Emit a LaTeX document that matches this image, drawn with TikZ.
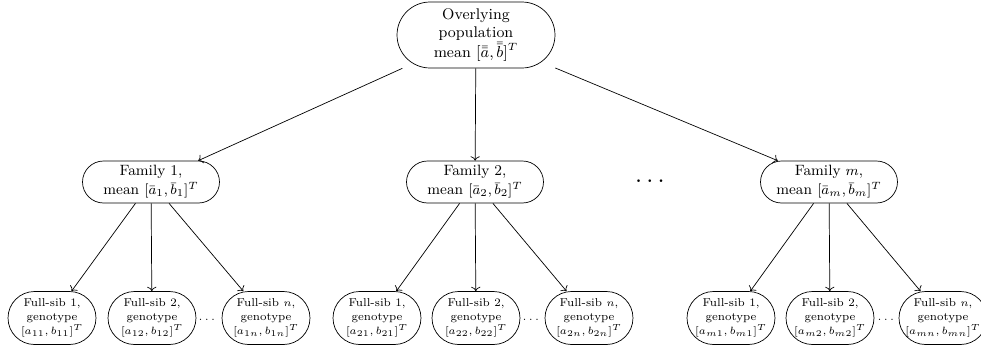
\documentclass[tikz,border=0pt]{standalone}
\usepackage{amsmath,amssymb}
\usepackage{tikz}
\usetikzlibrary{positioning,arrows.meta}
\tikzset{
  popbox/.style={draw,rounded corners=0.66cm,minimum width=3.16cm,
    minimum height=1.32cm,align=center,inner sep=1pt,
    font=\fontsize{8.8}{10.4}\selectfont},
  fambox/.style={draw,rounded corners=0.42cm,minimum width=2.74cm,
    minimum height=0.84cm,align=center,inner sep=1pt,
    font=\fontsize{8.5}{10.8}\selectfont},
  sibbox/.style={draw,rounded corners=0.53cm,minimum width=1.76cm,
    minimum height=1.06cm,align=center,inner sep=1pt,
    font=\fontsize{6.5}{7.9}\selectfont},
  link/.style={->,thin},
}

\begin{document}
\begin{tikzpicture}[x=0.02cm,y=-0.02cm]
  \useasboundingbox (0,0) rectangle (981,349);
  % top level
  \node[popbox] (pop) at (476,35)
    {Overlying\\population\\mean $[\bar{\bar{a}},\bar{\bar{b}}]^T$};
  % families
  \node[fambox] (fam1) at (151,182) {Family 1,\\mean $[\bar{a}_1,\bar{b}_1]^T$};
  \node[fambox] (fam2) at (475,182) {Family 2,\\mean $[\bar{a}_2,\bar{b}_2]^T$};
  \node[fambox] (famm) at (829,182) {Family $m$,\\mean $[\bar{a}_m,\bar{b}_m]^T$};
  \node[font=\Large] (famdots) at (652,182) {$\cdots$};
  \draw[link] (pop) -- (fam1);
  \draw[link] (pop) -- (fam2);
  \draw[link] (pop) -- (famm);
  % full-sibs of family 1
  \node[sibbox] (s11) at (52,318)  {Full-sib 1,\\genotype\\$[a_{11},b_{11}]^T$};
  \node[sibbox] (s12) at (152,318) {Full-sib 2,\\genotype\\$[a_{12},b_{12}]^T$};
  \node[sibbox] (s1n) at (266,318) {Full-sib $n$,\\genotype\\$[a_{1n},b_{1n}]^T$};
  \node[font=\fontsize{6.5}{7.9}\selectfont] (d1) at (208,320) {$\cdots$};
  % full-sibs of family 2
  \node[sibbox] (s21) at (377,318) {Full-sib 1,\\genotype\\$[a_{21},b_{21}]^T$};
  \node[sibbox] (s22) at (476,318) {Full-sib 2,\\genotype\\$[a_{22},b_{22}]^T$};
  \node[sibbox] (s2n) at (589,318) {Full-sib $n$,\\genotype\\$[a_{2n},b_{2n}]^T$};
  \node[font=\fontsize{6.5}{7.9}\selectfont] (d2) at (532,320) {$\cdots$};
  % full-sibs of family m
  \node[sibbox] (sm1) at (731,318) {Full-sib 1,\\genotype\\$[a_{m1},b_{m1}]^T$};
  \node[sibbox] (sm2) at (830,318) {Full-sib 2,\\genotype\\$[a_{m2},b_{m2}]^T$};
  \node[sibbox] (smn) at (943,318) {Full-sib $n$,\\genotype\\$[a_{mn},b_{mn}]^T$};
  \node[font=\fontsize{6.5}{7.9}\selectfont] (dm) at (887,320) {$\cdots$};
  \draw[link] (fam1) -- (s11);
  \draw[link] (fam1) -- (s12);
  \draw[link] (fam1) -- (s1n);
  \draw[link] (fam2) -- (s21);
  \draw[link] (fam2) -- (s22);
  \draw[link] (fam2) -- (s2n);
  \draw[link] (famm) -- (sm1);
  \draw[link] (famm) -- (sm2);
  \draw[link] (famm) -- (smn);
\end{tikzpicture}
\end{document}
